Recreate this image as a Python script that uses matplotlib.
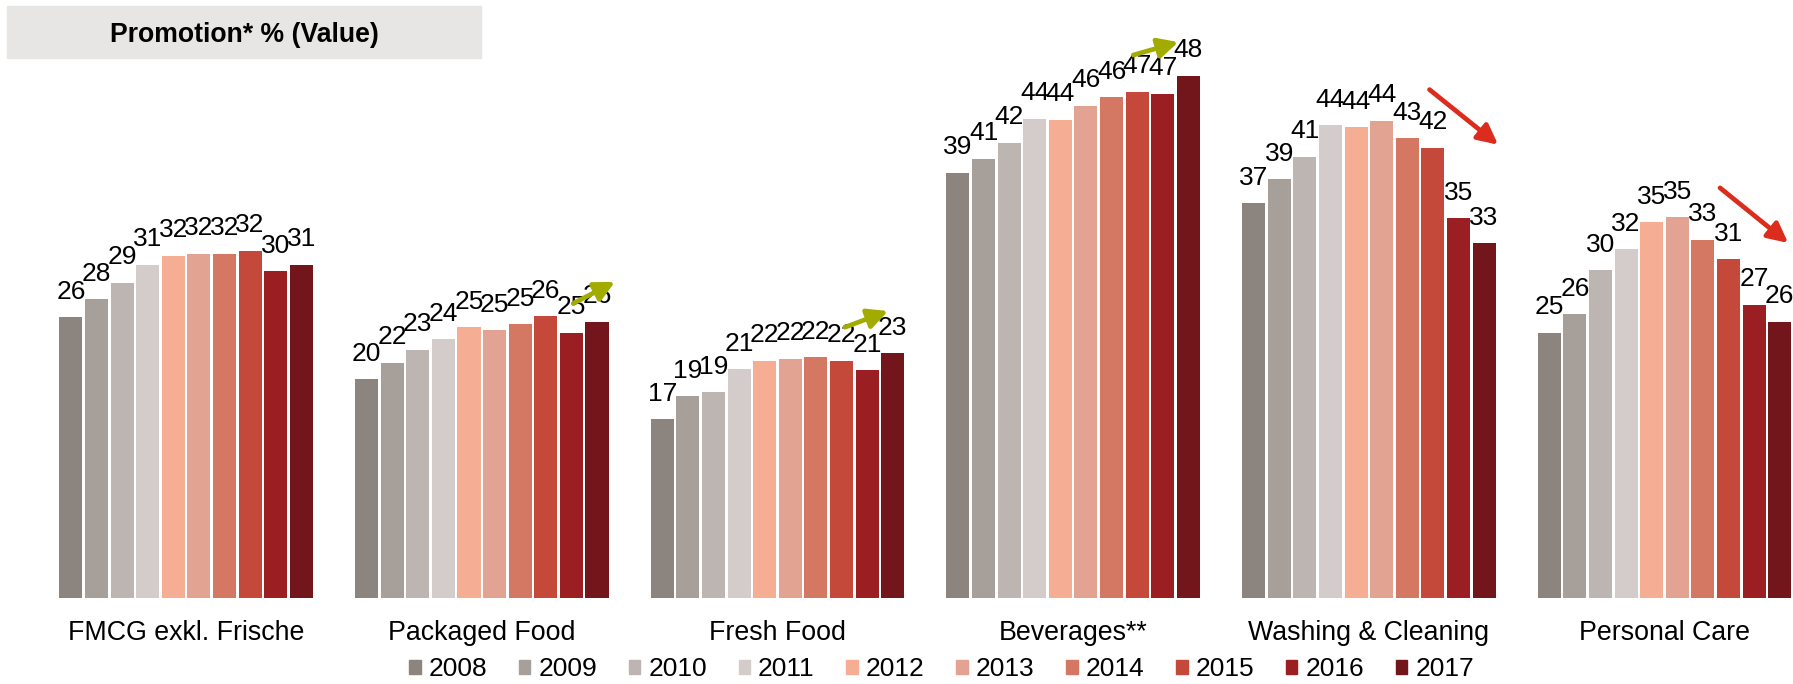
import numpy as np
import matplotlib
matplotlib.use("Agg")
import matplotlib.pyplot as plt
from matplotlib.patches import Rectangle
from matplotlib import transforms

plt.rcParams['font.family'] = ['Liberation Sans', 'DejaVu Sans']

# promotion share of value sales, % per year and category
years = ['2008', '2009', '2010', '2011', '2012', '2013', '2014', '2015', '2016', '2017']
categories = ['FMCG exkl. Frische', 'Packaged Food', 'Fresh Food', 'Beverages**',
              'Washing & Cleaning', 'Personal Care']
fmcg = [26.0, 27.7, 29.2, 30.9, 31.7, 31.9, 31.9, 32.2, 30.3, 30.9]
packaged = [20.3, 21.8, 23.0, 24.0, 25.1, 24.8, 25.4, 26.1, 24.6, 25.6]
fresh = [16.6, 18.7, 19.1, 21.2, 22.0, 22.2, 22.3, 22.0, 21.1, 22.7]
beverages = [39.4, 40.7, 42.2, 44.4, 44.3, 45.6, 46.4, 46.9, 46.7, 48.4]
washing = [36.6, 38.8, 40.9, 43.8, 43.6, 44.2, 42.6, 41.7, 35.2, 32.9]
personal = [24.6, 26.3, 30.4, 32.3, 34.8, 35.3, 33.2, 31.4, 27.2, 25.6]
series = [fmcg, packaged, fresh, beverages, washing, personal]

colors = ['#8c847f', '#a69f9a', '#bcb5b2', '#d4cccb', '#f5ae94',
          '#e2a392', '#d47763', '#c4493a', '#9b1e23', '#73161b']

# trend arrows: (x0, y0, x1, y1, colour) in data units
trend_arrows = [
    (19.62, 27.3, 21.25, 29.3, '#a2ac00'),
    (30.24, 25.1, 31.92, 26.6, '#a2ac00'),
    (41.50, 50.3, 43.26, 51.5, '#a2ac00'),
    (53.07, 47.1, 55.75, 42.0, '#dc2c1e'),
    (64.42, 38.0, 67.08, 32.9, '#dc2c1e'),
]

W, H = 1793, 684
fig = plt.figure(figsize=(W / 100, H / 100), dpi=100)
base_px = 598.3
ax = fig.add_axes([0, (H - base_px) / H, 1, base_px / H])

group_step = 11.55
bar_w = 0.9
for g, vals in enumerate(series):
    xs = g * group_step + np.arange(len(vals))
    ax.bar(xs, vals, width=bar_w, color=colors, edgecolor='none')
    for x, v in zip(xs, vals):
        ax.annotate(f'{v:.0f}', (x, v), xytext=(0, 13.3), textcoords='offset points',
                    ha='center', va='baseline', fontsize=19)

for x0, y0, x1, y1, c in trend_arrows:
    ax.annotate('', xy=(x1, y1), xytext=(x0, y0),
                arrowprops=dict(arrowstyle='-|>', color=c, lw=3.4,
                                mutation_scale=30, shrinkA=0, shrinkB=0))

ax.set_xlim(-2.77, -2.77 + W / 25.6)
ax.set_ylim(0, base_px / 10.8)
ax.axis('off')

# category names under each group
trans = transforms.blended_transform_factory(ax.transData, fig.transFigure)
for g, name in enumerate(categories):
    fig.text(g * group_step + 4.5, 1 - 640 / H, name, transform=trans,
             ha='center', va='baseline', fontsize=19.3)

# title box
fig.patches.append(Rectangle((7 / W, 1 - 57.7 / H), 474 / W, 51.7 / H,
                             transform=fig.transFigure, color='#e7e6e4', zorder=0))
fig.text(244 / W, 1 - 42.3 / H, 'Promotion* % (Value)', ha='center', va='baseline',
         fontsize=19.2, fontweight='bold')

handles = [Rectangle((0, 0), 1, 1, color=c) for c in colors]
fig.legend(handles, years, loc='center left', bbox_to_anchor=(409 / W, 1 - 669.5 / H),
           ncol=10, frameon=False, fontsize=19, borderpad=0, borderaxespad=0,
           handlelength=0.44, handleheight=0.44, handletextpad=0.3, columnspacing=1.2)

fig.savefig('out.png', dpi=100)
